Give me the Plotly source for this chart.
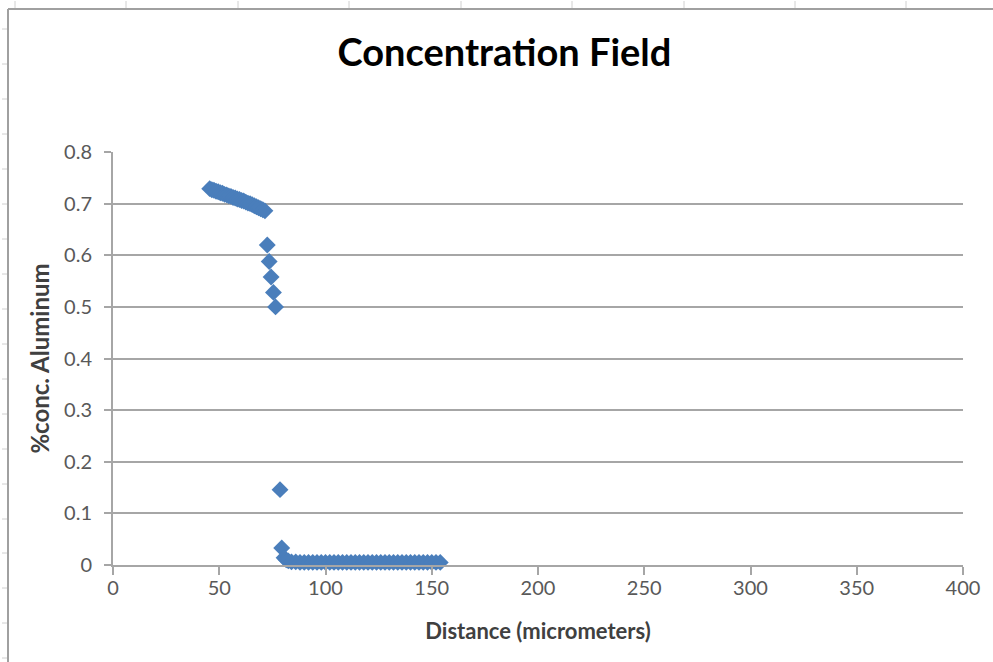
import plotly.graph_objects as go

# distance (micrometers) and % concentration of aluminum
distance = [
    45.5, 46.5, 47.5, 48.5, 49.5, 50.5, 51.5, 52.5, 53.5, 54.5,
    55.5, 56.5, 57.5, 58.5, 59.5, 60.5, 61.5, 62.5, 63.5, 64.5,
    65.5, 66.5, 67.5, 68.5, 69.5, 70.5, 71.5,
    72.6, 73.5, 74.4, 75.5, 76.5,
    78.6, 79.4,
    80.5, 81.5, 82.5, 84, 86, 88, 90, 92, 94, 96, 98, 100,
    102, 104, 106, 108, 110, 112, 114, 116, 118, 120,
    122, 124, 126, 128, 130, 132, 134, 136, 138, 140,
    142, 144, 146, 148, 150, 152, 154,
]
conc = [
    0.729, 0.727, 0.726, 0.724, 0.723, 0.721, 0.720, 0.718, 0.717, 0.715,
    0.714, 0.712, 0.711, 0.709, 0.708, 0.706, 0.705, 0.703, 0.701, 0.700,
    0.698, 0.696, 0.694, 0.692, 0.690, 0.688, 0.686,
    0.620, 0.588, 0.558, 0.528, 0.500,
    0.146, 0.033,
    0.014, 0.010, 0.008, 0.006, 0.006, 0.005, 0.005, 0.005, 0.005, 0.005, 0.005, 0.005,
    0.005, 0.005, 0.005, 0.005, 0.005, 0.005, 0.005, 0.005, 0.005, 0.005,
    0.005, 0.005, 0.005, 0.005, 0.005, 0.005, 0.005, 0.005, 0.005, 0.005,
    0.005, 0.005, 0.005, 0.005, 0.005, 0.005, 0.005,
]

x_ticks = [0, 50, 100, 150, 200, 250, 300, 350, 400]
y_ticks = [0, 0.1, 0.2, 0.3, 0.4, 0.5, 0.6, 0.7, 0.8]

BLUE = "#4A7EBB"
GRID = "#A6A6A6"
TXT = "#595959"
FONT = "Lato, 'Open Sans', sans-serif"

W, H = 993, 662
L, R, T, B = 113, 30, 152, 97

fig = go.Figure(go.Scatter(
    x=distance, y=conc,
    mode="markers",
    marker=dict(symbol="diamond", size=13, color=BLUE, line=dict(width=0)),
    cliponaxis=False,
    hovertemplate="%{x}: %{y}<extra></extra>",
))

fig.update_layout(
    width=W, height=H,
    paper_bgcolor="white", plot_bgcolor="white",
    margin=dict(l=L, r=R, t=T, b=B),
    font=dict(family=FONT, color=TXT, size=20),
    showlegend=False,
    title=dict(text="<b>Concentration Field</b>", x=0.508, xanchor="center",
               y=1 - 53 / H, yanchor="middle",
               font=dict(size=38, color="#000000", family=FONT)),
    xaxis=dict(range=[0, 400], tickvals=x_ticks, showgrid=False, zeroline=False,
               showline=True, linecolor=GRID, linewidth=2,
               ticks="outside", ticklen=8, tickcolor=GRID, tickwidth=2,
               tickfont=dict(size=20, color=TXT), ticklabelstandoff=-4,
               title=dict(text="<b>Distance (micrometers)</b>", standoff=26,
                          font=dict(size=22, color="#404040"))),
    yaxis=dict(range=[0, 0.8], tickvals=y_ticks, showgrid=True, gridcolor=GRID,
               gridwidth=2, zeroline=False, showline=True, linecolor=GRID,
               linewidth=2, ticks="outside", ticklen=7, tickcolor=GRID, tickwidth=2,
               tickfont=dict(size=20, color=TXT), ticklabelstandoff=8,
               title=dict(text="<b>%conc. Aluminum</b>", standoff=8,
                          font=dict(size=24, color="#404040"))),
)

# spreadsheet frame around the chart object
def px_x(p):
    return (p - L) / (W - L - R)

def px_y(p):
    return (H - B - p) / (H - T - B)

frame = dict(color="#A0A0A0", width=2)
fig.add_shape(type="line", xref="paper", yref="paper",
              x0=px_x(8), x1=px_x(W + 5), y0=px_y(9), y1=px_y(9), line=frame)
fig.add_shape(type="line", xref="paper", yref="paper",
              x0=px_x(8), x1=px_x(8), y0=px_y(9), y1=px_y(H + 5), line=frame)

light = dict(color="#D0D0D0", width=1)
for cx in [15, 126, 238, 349, 461, 572, 684, 795, 906]:
    fig.add_shape(type="line", xref="paper", yref="paper",
                  x0=px_x(cx), x1=px_x(cx), y0=px_y(1), y1=px_y(8), line=light)
for cy in [29, 64, 99, 134, 169, 204, 239, 274, 309, 344, 379, 414,
           449, 484, 519, 553, 588, 623, 658]:
    fig.add_shape(type="line", xref="paper", yref="paper",
                  x0=px_x(2), x1=px_x(7), y0=px_y(cy), y1=px_y(cy), line=light)

# drop the browser's default 8px body margin so the figure sits at 0,0
fig.write_html("out.html", config={"displayModeBar": False},
               post_script="document.body.style.margin='0';")
